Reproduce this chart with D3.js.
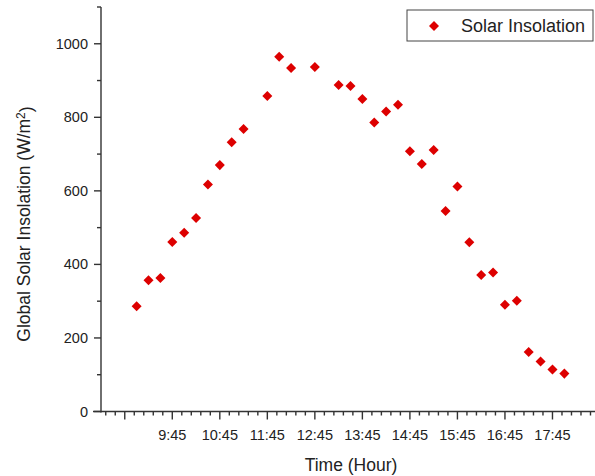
<!DOCTYPE html>
<html>
<head>
<meta charset="utf-8">
<script src="https://cdn.jsdelivr.net/npm/d3@7"></script>
<style>
  body { margin: 0; background: #fff; }
  text { font-family: "Liberation Sans", Arial, sans-serif; fill: #222; }
  .axis path, .axis line { stroke: #333; stroke-width: 1.4; }
</style>
</head>
<body>
<script>
// measurement times (h:mm) and global solar insolation (W/m2)
var times = ["9:00", "9:15", "9:30", "9:45", "10:00", "10:15", "10:30", "10:45",
    "11:00", "11:15", "11:45", "12:00", "12:15", "12:45", "13:15", "13:30",
    "13:45", "14:00", "14:15", "14:30", "14:45", "15:00", "15:15", "15:30",
    "15:45", "16:00", "16:15", "16:30", "16:45", "17:00", "17:15", "17:30",
    "17:45", "18:00"];
var insolation = [286, 357, 363, 461, 486, 526, 617, 670,
    732, 768, 858, 965, 934, 937, 888, 885,
    850, 786, 816, 834, 708, 673, 711, 545,
    612, 460, 371, 378, 290, 301, 162, 136,
    114, 103];
var xTickLabels = ["", "9:45", "10:45", "11:45", "12:45", "13:45", "14:45",
    "15:45", "16:45", "17:45", ""];
var yTicks = [0, 200, 400, 600, 800, 1000];

function toMin(s) {
    var p = s.split(":");
    return +p[0] * 60 + +p[1];
}

var W = 595, H = 476;
var svg = d3.select("body").append("svg")
    .attr("width", W)
    .attr("height", H);

var x = d3.scaleLinear()
    .domain([toMin("8:15"), toMin("18:45")])
    .range([101, 600]);
var y = d3.scaleLinear()
    .domain([0, 1100])
    .range([411.5, 7]);

// x axis: major ticks on the :45, minor every 12 min
var majorX = d3.range(toMin("8:45"), toMin("18:45") + 1, 60);
var minorX = d3.range(toMin("8:21"), toMin("18:45"), 12)
    .filter(d => majorX.indexOf(d) < 0);

var xg = svg.append("g").attr("class", "axis");
xg.append("line")
    .attr("x1", 93).attr("x2", W)
    .attr("y1", y(0)).attr("y2", y(0));
xg.selectAll(".minor")
    .data(minorX)
    .enter().append("line")
    .attr("x1", d => x(d)).attr("x2", d => x(d))
    .attr("y1", y(0)).attr("y2", y(0) + 4);
xg.selectAll(".major")
    .data(majorX)
    .enter().append("line")
    .attr("x1", d => x(d)).attr("x2", d => x(d))
    .attr("y1", y(0)).attr("y2", y(0) + 8);
xg.selectAll(".xlab")
    .data(majorX)
    .enter().append("text")
    .attr("x", d => x(d))
    .attr("y", y(0) + 28)
    .attr("text-anchor", "middle")
    .style("font-size", "14.5px")
    .text((d, i) => xTickLabels[i]);

// y axis
var yg = svg.append("g").attr("class", "axis");
yg.append("line")
    .attr("x1", x.range()[0]).attr("x2", x.range()[0])
    .attr("y1", y(1100)).attr("y2", y(0) + 1);
yg.selectAll(".minor")
    .data(d3.range(100, 1101, 200))
    .enter().append("line")
    .attr("x1", 101).attr("x2", 97)
    .attr("y1", d => y(d)).attr("y2", d => y(d));
yg.selectAll(".major")
    .data(yTicks)
    .enter().append("line")
    .attr("x1", 101).attr("x2", 94)
    .attr("y1", d => y(d)).attr("y2", d => y(d));
yg.selectAll(".ylab")
    .data(yTicks)
    .enter().append("text")
    .attr("x", 88)
    .attr("y", d => y(d))
    .attr("dy", "0.35em")
    .attr("text-anchor", "end")
    .style("font-size", "14.5px")
    .text(d => d);

// axis titles
svg.append("text")
    .attr("x", 351)
    .attr("y", 471)
    .attr("text-anchor", "middle")
    .style("font-size", "17.5px")
    .text("Time (Hour)");

var yt = svg.append("text")
    .attr("transform", "translate(30,224) rotate(-90)")
    .attr("text-anchor", "middle")
    .style("font-size", "17.5px");
yt.append("tspan").text("Global Solar Insolation (W/m");
yt.append("tspan").attr("dy", "-0.45em").style("font-size", "12px").text("2");
yt.append("tspan").attr("dy", "0.45em").text(")");

// points
var diamond = d3.symbol().type(d3.symbolDiamond2).size(64);
svg.selectAll(".pt")
    .data(times)
    .enter().append("path")
    .attr("class", "pt")
    .attr("d", diamond)
    .attr("fill", "#dd0000")
    .attr("transform", (d, i) => "translate(" + x(toMin(d)) + "," + y(insolation[i]) + ")");

// legend
var legend = svg.append("g").attr("transform", "translate(407,10)");
legend.append("rect")
    .attr("width", 186).attr("height", 31)
    .attr("fill", "#fff")
    .attr("stroke", "#444")
    .attr("stroke-width", 1);
legend.append("path")
    .attr("d", diamond)
    .attr("fill", "#dd0000")
    .attr("transform", "translate(27,16)");
legend.append("text")
    .attr("x", 54).attr("y", 16)
    .attr("dy", "0.35em")
    .style("font-size", "18px")
    .text("Solar Insolation");
</script>
</body>
</html>
